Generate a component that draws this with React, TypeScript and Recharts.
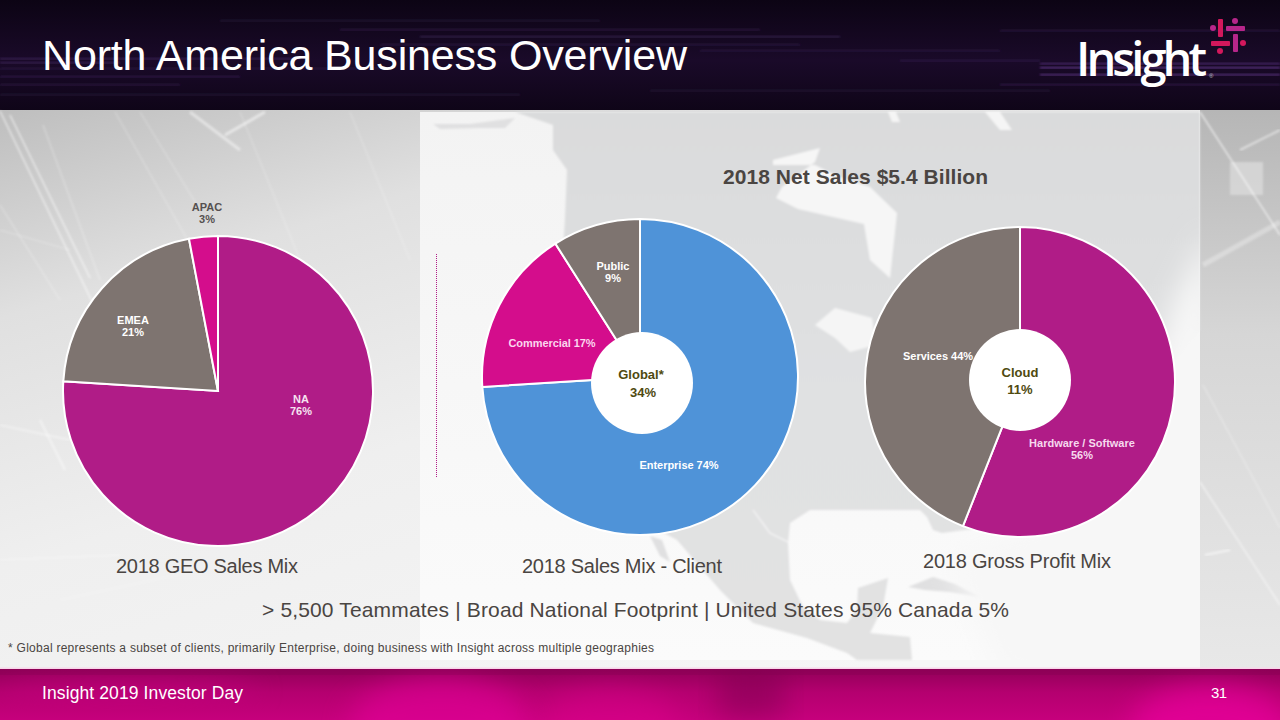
import React from "react";
import { PieChart, Pie, Cell } from "recharts";

const geoNames = ["NA", "EMEA", "APAC"];
const geoValues = [76, 21, 3];
const clientNames = ["Enterprise", "Commercial", "Public"];
const clientValues = [74, 17, 9];
const profitNames = ["Hardware / Software", "Services"];
const profitValues = [56, 44];

const purple = "#b01c87";
const taupe = "#7e7470";
const magenta = "#d40d8c";
const blue = "#4f93d8";

const FONT = "'Liberation Sans', Arial, sans-serif";

type Spot = { dx: number; dy: number; fill: string; oneLine?: boolean; width?: number };

function toRows(names: string[], values: number[]) {
  return names.map((name, i) => ({ name, value: values[i] }));
}

function Mix(props: {
  names: string[]; values: number[]; colors: string[]; cx: number; cy: number; r: number; spots: Spot[];
}) {
  const { names, values, colors, cx, cy, r, spots } = props;
  const pad = 40;
  const size = 2 * (r + pad);
  const renderLabel = (p: any) => {
    const i = p.index as number;
    const s = spots[i];
    const x = r + pad + s.dx;
    const y = r + pad + s.dy;
    const common = { fontFamily: FONT, fontSize: 11, fontWeight: 700, fill: s.fill, textAnchor: "middle" as const };
    if (s.oneLine) {
      return <text key={i} x={x} y={y} {...common} textLength={s.width}>{`${names[i]} ${values[i]}%`}</text>;
    }
    return (
      <text key={i} x={x} y={y} {...common}>
        <tspan x={x}>{names[i]}</tspan>
        <tspan x={x} dy={12}>{`${values[i]}%`}</tspan>
      </text>
    );
  };
  return (
    <div style={{ position: "absolute", left: cx - r - pad, top: cy - r - pad, width: size, height: size }}>
      <PieChart width={size} height={size} margin={{ top: 0, right: 0, bottom: 0, left: 0 }}>
        <Pie data={toRows(names, values)} dataKey="value" nameKey="name" cx={r + pad} cy={r + pad}
          outerRadius={r} innerRadius={0} startAngle={90} endAngle={-270} stroke="#ffffff" strokeWidth={2}
          isAnimationActive={false} labelLine={false} label={renderLabel}>
          {names.map((n, i) => <Cell key={n} fill={colors[i]} />)}
        </Pie>
      </PieChart>
    </div>
  );
}

function Backdrop() {
  const headLines = [
    [0, 58, 300, "#3c2156"], [0, 62, 120, "#3c2156"], [0, 76, 240, "#32194a"], [0, 84, 180, "#2d1643"],
    [220, 20, 380, "#241236"], [340, 29, 420, "#2d1643"], [420, 36, 420, "#35204f"], [380, 44, 420, "#2a1740"],
    [0, 68, 380, "#2a1740"], [1040, 63, 240, "#4f2c72"], [1040, 67, 240, "#63388c"], [1040, 74, 240, "#5d3585"],
    [900, 60, 140, "#2f1a47"], [700, 50, 300, "#2a1740"], [650, 90, 400, "#241236"], [1000, 84, 280, "#301a48"],
    [0, 94, 520, "#241236"], [1000, 30, 280, "#2a1740"],
  ] as const;
  const streaks = [
    [0, 111, 100, 318, 1.4, 0.6], [10, 115, 90, 278, 1.2, 0.7], [43, 125, 100, 280, 1, 0.4], [115, 112, 250, 350, 1, 0.35],
    [140, 112, 200, 210, 1, 0.35], [0, 205, 60, 300, 1, 0.4], [240, 112, 300, 260, 1, 0.3], [0, 425, 70, 440, 2, 0.35],
    [40, 420, 65, 470, 2, 0.45], [350, 112, 410, 260, 1, 0.3], [190, 112, 240, 150, 3, 0.45], [225, 135, 265, 112, 3, 0.5],
    [1200, 112, 1280, 235, 1.4, 0.65], [1203, 265, 1280, 222, 5, 0.3], [1203, 385, 1280, 528, 1, 0.45],
    [1200, 482, 1280, 605, 1.4, 0.55], [1205, 555, 1230, 550, 2, 0.6], [1240, 150, 1280, 130, 2, 0.5],
    [60, 600, 200, 570, 1, 0.3], [0, 560, 120, 555, 1, 0.4], [0, 230, 70, 250, 1, 0.3],
  ];
  return (
    <svg width={1280} height={720} style={{ position: "absolute", left: 0, top: 0 }}>
      <defs>
        <filter id="soft" x="-5%" y="-5%" width="110%" height="110%"><feGaussianBlur stdDeviation="0.9" /></filter>
        <filter id="haze" x="-30%" y="-30%" width="160%" height="160%"><feGaussianBlur stdDeviation="14" /></filter>
        <linearGradient id="head" x1="0" y1="0" x2="0" y2="1">
          <stop offset="0" stopColor="#0c0414" /><stop offset="0.55" stopColor="#1a0a29" /><stop offset="1" stopColor="#0f0518" />
        </linearGradient>
        <linearGradient id="left" x1="0" y1="0" x2="0.7" y2="1">
          <stop offset="0" stopColor="#bebebe" /><stop offset="0.25" stopColor="#e0e0e0" /><stop offset="0.55" stopColor="#efefef" /><stop offset="1" stopColor="#f6f6f6" />
        </linearGradient>
        <linearGradient id="panel" x1="0" y1="0" x2="0" y2="1">
          <stop offset="0" stopColor="#f3f3f3" /><stop offset="1" stopColor="#fbfbfb" />
        </linearGradient>
        <linearGradient id="right" x1="0" y1="0" x2="0" y2="1">
          <stop offset="0" stopColor="#b6b6b6" /><stop offset="0.4" stopColor="#d6d6d6" /><stop offset="1" stopColor="#e8e8e8" />
        </linearGradient>
        <linearGradient id="land" x1="0" y1="0" x2="0" y2="1">
          <stop offset="0" stopColor="#dadbdc" /><stop offset="0.5" stopColor="#e0e1e2" /><stop offset="1" stopColor="#e2e2e2" />
        </linearGradient>
        <linearGradient id="foot" x1="0" y1="0" x2="0" y2="1">
          <stop offset="0" stopColor="#920059" /><stop offset="0.45" stopColor="#b4006f" /><stop offset="1" stopColor="#c6007c" />
        </linearGradient>
        <clipPath id="footClip"><rect x={0} y={669} width={1280} height={51} /></clipPath>
        <clipPath id="panelClip"><rect x={420} y={112} width={780} height={548} /></clipPath>
      </defs>
      <rect x={0} y={0} width={1280} height={110} fill="url(#head)" />
      {headLines.map(([x, y, w, c], i) => <rect key={i} x={x} y={y} width={w} height={1.5} fill={c} filter="url(#soft)" />)}
      <rect x={0} y={110} width={1280} height={559} fill="url(#left)" />
      <rect x={1200} y={110} width={80} height={559} fill="url(#right)" />
      <rect x={1230} y={162} width={33} height={33} fill="#e6e6e6" opacity={0.55} filter="url(#soft)" />
      {streaks.map(([a, b, c, d, w, o], i) => <line key={i} x1={a} y1={b} x2={c} y2={d} stroke="#ffffff" strokeOpacity={o} strokeWidth={w} filter="url(#soft)" />)}
      <rect x={420} y={112} width={780} height={548} fill="url(#panel)" />
      <g filter="url(#soft)">
        <path fill="url(#land)" d="M515 112 L1200 112 L1200 330 L1120 430 L1040 520 L942 533 L933 530 L927 517 L920 510 L810 510 L790 523 L788 543 L790 580 L803 607 L820 620 L847 623 L857 610 L858 588 L888 578 L883 607 L870 633 L910 637 L912 660 L857 660 L847 653 L807 638 L753 623 L720 590 L677 540 L640 520 L560 300 L565 218 L567 170 L553 150 L553 125 Z" />
        <path fill="#e0e0e1" d="M650 536 L662 540 L670 562 L660 556 Z M908 587 L933 577 L955 584 L980 597 L950 592 L925 590 Z M433 124 L470 124 L515 118 L505 128 L480 128 L440 129 Z" />
        <path fill="#f6f6f6" d="M773 160 L820 148 L815 162 L782 187 L776 198 L798 209 L864 224 L870 260 L890 278 L897 213 L870 187 L837 176 L815 165 L773 165 Z" />
        <path fill="#f5f5f5" d="M815 325 L835 308 L872 318 L876 345 L850 352 L835 338 Z M888 112 L896 112 L900 122 L892 122 Z M985 112 L1000 112 L1012 130 L1000 130 Z" />
        <path fill="none" stroke="#f7f7f7" strokeWidth={1.2} d="M753 510 L770 533 L790 543 M690 315 L730 333" />
      </g>
      <g clipPath="url(#panelClip)">
        <path d="M1210 230 L1175 300 L1130 430 L1040 525 L950 560 L1000 680 L1240 680 Z" fill="#f7f7f7" filter="url(#haze)" />
      </g>
      <rect x={0} y={669} width={1280} height={51} fill="url(#foot)" />
      <g clipPath="url(#footClip)">
        <ellipse cx={440} cy={725} rx={90} ry={48} fill="#e4009a" opacity={0.6} filter="url(#haze)" />
        <ellipse cx={1210} cy={728} rx={80} ry={42} fill="#e6009a" opacity={0.8} filter="url(#haze)" />
        <ellipse cx={610} cy={722} rx={70} ry={34} fill="#e2008f" opacity={0.45} filter="url(#haze)" />
        <ellipse cx={130} cy={690} rx={130} ry={12} fill="#c80082" opacity={0.55} filter="url(#haze)" />
        <rect x={718} y={669} width={66} height={51} fill="#6e0046" opacity={0.4} filter="url(#haze)" />
        <rect x={0} y={669} width={1280} height={6} fill="#7c004c" opacity={0.25} />
      </g>
      <rect x={0} y={667.5} width={1280} height={1.5} fill="#f7d6ea" />
      <line x1={436.5} y1={254} x2={436.5} y2={478} stroke={purple} strokeWidth={1} strokeDasharray="1 1" />
    </svg>
  );
}

function Overlay() {
  const dark = "#4a4542";
  const olive = "#4f4a10";
  return (
    <svg width={1280} height={720} style={{ position: "absolute", left: 0, top: 0 }} fontFamily={FONT}>
      <circle cx={642} cy={383} r={51} fill="#ffffff" />
      <circle cx={1020} cy={380} r={51} fill="#ffffff" />
      <text x={641} y={379} textAnchor="middle" fontSize={13} fontWeight={700} fill={olive}>Global*</text>
      <text x={643} y={397} textAnchor="middle" fontSize={13} fontWeight={700} fill={olive}>34%</text>
      <text x={1020} y={377} textAnchor="middle" fontSize={13} fontWeight={700} fill={olive}>Cloud</text>
      <text x={1020} y={394} textAnchor="middle" fontSize={13} fontWeight={700} fill={olive}>11%</text>

      <text x={42} y={70} fontSize={43} fill="#ffffff" textLength={645}>North America Business Overview</text>
      <text x={723} y={184} fontSize={21} fontWeight={700} fill={dark} textLength={265}>2018 Net Sales $5.4 Billion</text>
      <text x={116} y={573} fontSize={20} fill={dark} textLength={182}>2018 GEO Sales Mix</text>
      <text x={522} y={573} fontSize={20} fill={dark} textLength={200}>2018 Sales Mix - Client</text>
      <text x={923} y={568} fontSize={20} fill={dark} textLength={188}>2018 Gross Profit Mix</text>
      <text x={262} y={617} fontSize={21} fill={dark} textLength={747}>{"> 5,500 Teammates  | Broad National Footprint | United States 95% Canada 5%"}</text>
      <text x={8} y={652} fontSize={12} fill={dark} textLength={646}>* Global represents a subset of clients, primarily Enterprise, doing business with Insight across multiple geographies</text>
      <text x={42} y={699} fontSize={17.5} fill="#ffffff" textLength={201}>Insight 2019 Investor Day</text>
      <text x={1211} y={698} fontSize={15} fill="#ffffff" textLength={16}>31</text>

      <text x={1076} y={76} fontFamily="'Open Sans', sans-serif" fontSize={47} fontWeight={600} fill="#ffffff" textLength={131}>Insight</text>
      <text x={1209} y={78} fontSize={6} fill="#cfcfcf">®</text>
      <rect x={1218} y={19} width={5} height={18} rx={1} fill="#d3185c" />
      <rect x={1226} y={26} width={19} height={5} rx={1} fill="#b7268a" />
      <rect x={1211} y={41} width={19} height={5} rx={1} fill="#d3185c" />
      <rect x={1233} y={34} width={5} height={18} rx={1} fill="#b7268a" />
      <circle cx={1213} cy={28} r={3} fill="#b7268a" />
      <circle cx={1235} cy={21} r={3} fill="#b7268a" />
      <circle cx={1243} cy={43} r={3} fill="#d3185c" />
      <circle cx={1220} cy={51} r={3} fill="#d3185c" />
    </svg>
  );
}

export default function App() {
  return (
    <div style={{ position: "absolute", left: 0, top: 0, width: 1280, height: 720, overflow: "hidden", fontFamily: FONT }}>
      <Backdrop />
      <Mix names={geoNames} values={geoValues} colors={[purple, taupe, magenta]} cx={218} cy={391} r={155}
        spots={[
          { dx: 83, dy: 12, fill: "#f6e3f1" },
          { dx: -85, dy: -67, fill: "#ffffff" },
          { dx: -11, dy: -180, fill: "#555050" },
        ]} />
      <Mix names={clientNames} values={clientValues} colors={[blue, magenta, taupe]} cx={640} cy={377} r={158}
        spots={[
          { dx: 39, dy: 92, fill: "#ffffff", oneLine: true, width: 79 },
          { dx: -88, dy: -30, fill: "#fbd6ee", oneLine: true, width: 87 },
          { dx: -27, dy: -107, fill: "#ffffff" },
        ]} />
      <Mix names={profitNames} values={profitValues} colors={[purple, taupe]} cx={1020} cy={382} r={155}
        spots={[
          { dx: 62, dy: 65, fill: "#f6d9ee" },
          { dx: -82, dy: -22, fill: "#ffffff", oneLine: true, width: 70 },
        ]} />
      <Overlay />
    </div>
  );
}
